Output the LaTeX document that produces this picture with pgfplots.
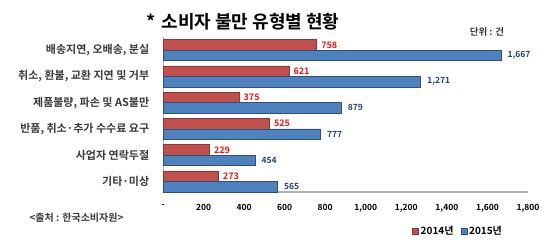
\documentclass[border=0pt]{standalone}
\usepackage{pgfplots}
\pgfplotsset{compat=1.18}
\usepackage{fontspec}
\setmainfont{Noto Sans CJK KR}[BoldFont={* Bold}]
\newfontfamily\kr{Noto Sans CJK KR Bold}
\definecolor{rbar}{HTML}{C0504D}
\definecolor{rbard}{HTML}{8C3836}
\definecolor{bbar}{HTML}{4F81BD}
\definecolor{bbard}{HTML}{2F4F7F}
\definecolor{rlab}{HTML}{FF1010}
\definecolor{blab}{HTML}{23406E}
\definecolor{labgray}{HTML}{3A3A3A}
\begin{document}
\begin{tikzpicture}
\begin{axis}[
  at={(163pt,-192pt)}, anchor=south west,
  xbar, scale only axis, width=365pt, height=155pt,
  xmin=0, xmax=1800, ymin=-0.5, ymax=5.4, y dir=reverse,
  bar width=10.5pt,
  axis x line*=bottom, axis y line*=left,
  x axis line style={draw=gray!60, line width=1.5pt, -},
  y axis line style={draw=gray!60, line width=0.8pt, -},
  xtick={0,200,...,1800},
  xticklabels={-,200,400,600,800,{1,000},{1,200},{1,400},{1,600},{1,800}},
  xtick style={draw=none}, ytick style={draw=none},
  ytick={0,...,5},
  yticklabels={{배송지연, 오배송, 분실},{취소, 환불, 교환 지연 및 거부},{제품불량, 파손 및 AS불만},{반품, 취소·추가 수수료 요구},{사업자 연락두절},{기타·미상}},
  yticklabel style={font=\kr\fontsize{11}{13}\selectfont, text=labgray, xshift=-6pt},
  xticklabel style={font=\kr\fontsize{8.5}{10}\selectfont, text=black, yshift=-9pt},
  /pgf/number format/assume math mode=true,
  nodes near coords,
  nodes near coords align={horizontal},
  /pgf/number format/.cd, 1000 sep={,},
  /pgfplots/.cd,
  legend style={at={(axis description cs:0.682,-0.252)}, anchor=west, draw=none, fill=none,
    legend columns=2, font=\kr\fontsize{10}{12}\selectfont, inner sep=0pt},
  legend image code/.code={\fill[#1] (0pt,-3pt) rectangle (6pt,3pt);},
  legend cell align=left,
]
\addplot[fill=rbar, draw=rbard, line width=0.6pt, bar shift=5.25pt,
  every node near coord/.append style={font=\kr\fontsize{9}{10}\selectfont, text=rlab, xshift=1pt}]
  coordinates {(758,0) (621,1) (375,2) (525,3) (229,4) (273,5)};
\addplot[fill=bbar, draw=bbard, line width=0.6pt, bar shift=-5.25pt,
  every node near coord/.append style={font=\kr\fontsize{8.5}{10}\selectfont, text=blab, xshift=3pt}]
  coordinates {(1667,0) (1271,1) (879,2) (777,3) (454,4) (565,5)};
\legend{2014년\rule{5pt}{0pt},2015년}
\end{axis}
\node[anchor=west, font=\kr\fontsize{18}{20}\selectfont] at (143pt,-22pt) {*\hspace{6pt}소비자 불만 유형별 현황};
\node[font=\kr\fontsize{9.5}{11}\selectfont, text=labgray] at (487pt,-32pt) {단위 : 건};
\node[anchor=west, font=\kr\fontsize{10}{12}\selectfont, text=labgray] at (26pt,-218pt) {<출처 : 한국소비자원>};
\pgfresetboundingbox
\path[use as bounding box] (0,0) rectangle (554pt,-247pt);
\end{tikzpicture}
\end{document}
